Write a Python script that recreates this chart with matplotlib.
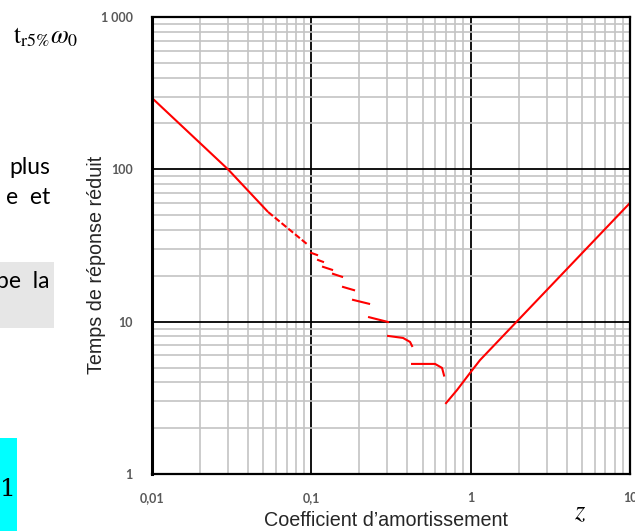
import matplotlib
matplotlib.use('Agg')
import matplotlib.pyplot as plt
from matplotlib.patches import Rectangle
from matplotlib.ticker import FixedLocator, LogLocator, NullFormatter

# reduced response time t_r5% * w0 versus damping z
z_main = [0.01, 0.03, 0.0535]
t_main = [294, 100, 52.5]

z_dash = [0.0535, 0.0953]
t_dash = [52.5, 31.9]

# short pieces of the staircase between z = 0.1 and z = 0.7
z_steps = [
    [0.0996, 0.1086],
    [0.1102, 0.1184],
    [0.1184, 0.1349],
    [0.1368, 0.1559],
    [0.1581, 0.1854],
    [0.1827, 0.2303],
    [0.2303, 0.3030],
    [0.3030, 0.3763, 0.4165, 0.4287],
    [0.4287, 0.5976, 0.6614, 0.6808],
]
t_steps = [
    [28.3, 27.4],
    [25.4, 24.7],
    [22.9, 21.9],
    [20.6, 19.7],
    [16.9, 16.1],
    [13.9, 13.1],
    [10.7, 9.95],
    [8.06, 7.82, 7.36, 6.92],
    [5.28, 5.28, 4.97, 4.43],
]

z_high = [0.7006, 0.8215, 0.9912, 1.1456, 10]
t_high = [2.92, 3.56, 4.61, 5.60, 60.2]

x_ticks = [0.01, 0.1, 1, 10]
x_labels = ['0,01', '0,1', '1', '10']
y_ticks = [1, 10, 100, 1000]
y_labels = ['1', '10', '100', '1 000']

W, H = 635, 531
fig = plt.figure(figsize=(W / 100, H / 100), dpi=100)

# text fragments of the surrounding document
fig.add_artist(Rectangle((0, 1 - 328 / H), 54 / W, 66 / H, transform=fig.transFigure,
                         facecolor='#e6e6e6', edgecolor='none'))
fig.add_artist(Rectangle((0, 0), 17 / W, (H - 438) / H, transform=fig.transFigure,
                         facecolor='#00ffff', edgecolor='none'))
doc_font = dict(family='Lato', fontsize=16.5, color='black', ha='right', va='center')
fig.text(50 / W, 1 - 167 / H, 'plus', **doc_font)
fig.text(50 / W, 1 - 198 / H, 'e  et', **doc_font)
fig.text(50 / W, 1 - 281 / H, 'pe  la', **doc_font)
fig.text(8 / W, 1 - 489 / H, '1', family='DejaVu Serif', fontsize=18,
         ha='center', va='center')
plt.rcParams['mathtext.fontset'] = 'stix'
fig.text(13 / W, 1 - 36 / H, r'$\mathrm{t}_{\mathrm{r5\%}}\omega_0$', fontsize=18.5,
         ha='left', va='center')
fig.text(580 / W, 1 - 512 / H, r'$z$', fontsize=19, ha='center', va='center')

ax = fig.add_axes([152 / W, 1 - 474 / H, (630 - 152) / W, (474 - 17) / H])
ax.set_xscale('log')
ax.set_yscale('log')
ax.set_xlim(0.01, 10)
ax.set_ylim(1, 1000)

red = '#ff0000'
ax.plot(z_main, t_main, color=red, lw=1.5, solid_capstyle='butt')
ax.plot(z_dash, t_dash, color=red, lw=1.5, dashes=(3, 1.2))
for zs, ts in zip(z_steps, t_steps):
    ax.plot(zs, ts, color=red, lw=1.5)
ax.plot(z_high, t_high, color=red, lw=1.5)

ax.xaxis.set_major_locator(FixedLocator(x_ticks))
ax.yaxis.set_major_locator(FixedLocator(y_ticks))
ax.set_xticklabels(x_labels)
ax.set_yticklabels(y_labels)
ax.xaxis.set_minor_locator(LogLocator(base=10, subs=range(2, 10), numticks=20))
ax.yaxis.set_minor_locator(LogLocator(base=10, subs=range(2, 10), numticks=20))
ax.xaxis.set_minor_formatter(NullFormatter())
ax.yaxis.set_minor_formatter(NullFormatter())

ax.grid(which='minor', color='#c4c4c4', lw=1.2)
ax.grid(which='major', color='black', lw=1.3)
ax.set_axisbelow(True)
for s in ax.spines.values():
    s.set_linewidth(1.6)
    s.set_color('black')
ax.spines['left'].set_linewidth(2.2)

ax.tick_params(which='both', length=0)
ax.tick_params(axis='x', pad=13, labelsize=9, labelcolor='#595959')
ax.tick_params(axis='y', pad=14, labelsize=9, labelcolor='#595959')
for lab in ax.get_xticklabels() + ax.get_yticklabels():
    lab.set_family('Lato')
    lab.set_fontweight('bold')

fig.text(386 / W, 1 - 521 / H, "Coefficient d\u2019amortissement", family='Liberation Sans',
         fontsize=14.2, color='#262626', ha='center', va='center')
fig.text(96 / W, 1 - 265 / H, 'Temps de réponse réduit', family='Liberation Sans',
         fontsize=14.2, color='#262626', ha='center', va='center', rotation=90)

fig.savefig('out.png', dpi=100)
